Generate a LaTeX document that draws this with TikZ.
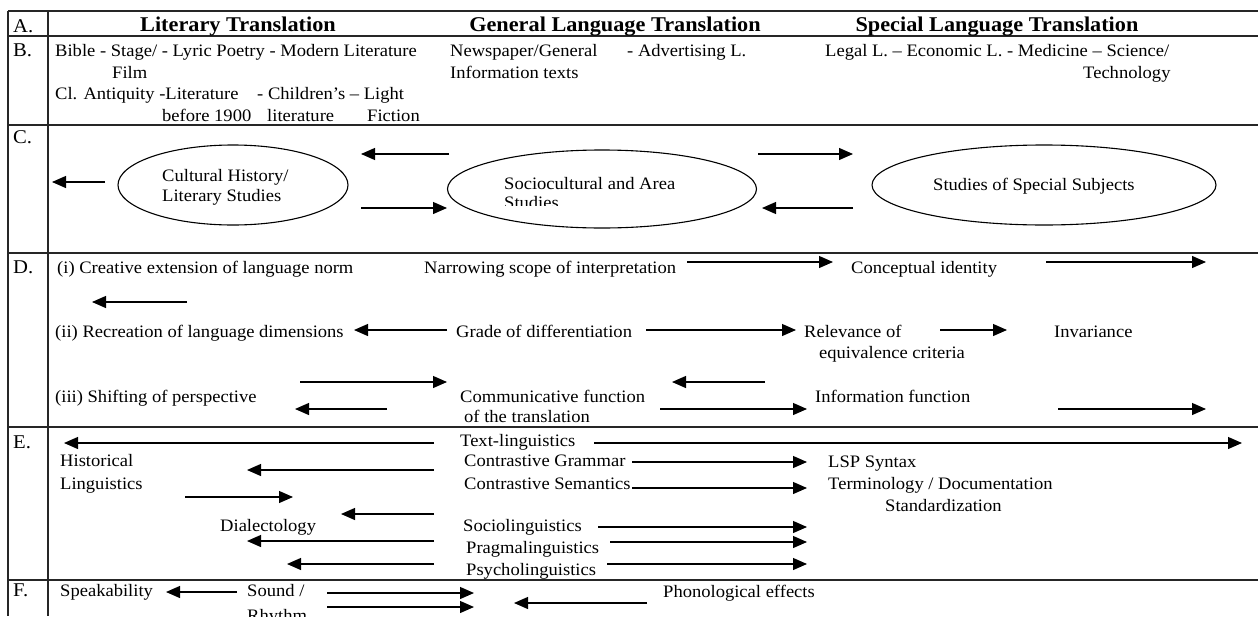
\documentclass[tikz,border=0pt]{standalone}
\usepackage{fontspec}
\setmainfont{Liberation Serif}[FakeStretch=1.06]
\usetikzlibrary{arrows.meta,shapes.geometric}
\newcommand\txtsize{\fontsize{17.5}{20}\selectfont}
\newcommand\hdsize{\fontsize{21}{24}\selectfont\bfseries}
\newcommand\lblsize{\fontsize{19.5}{22}\selectfont}
\tikzset{
  t/.style={anchor=base west,inner sep=0pt,font=\txtsize},
  hd/.style={anchor=base,inner sep=0pt,font=\hdsize},
  lbl/.style={anchor=base west,inner sep=0pt,font=\lblsize},
  arr/.style={-{Triangle[length=14pt,width=12pt]},line width=1.2pt},
  rule/.style={line width=1.5pt,draw=black!85},
  oval/.style={ellipse,draw,line width=1.1pt,inner sep=0pt},
}
\begin{document}
\begin{tikzpicture}[x=1pt,y=-1pt]
\clip (0,0) rectangle (1258,616);
\fill[white] (0,0) rectangle (1258,616);

% table rules
\draw[rule] (8,11) -- (1258,11);
\draw[rule] (8,36) -- (1258,36);
\draw[rule] (8,125) -- (1258,125);
\draw[rule] (8,253) -- (1258,253);
\draw[rule] (8,427) -- (1258,427);
\draw[rule] (8,580) -- (1258,580);
\draw[rule] (8,11) -- (8,616);
\draw[rule] (48,11) -- (48,616);

% row labels
\node[lbl] (lA) at (13,32) {A.};
\node[lbl] (lB) at (13,56) {B.};
\node[lbl] (lC) at (13,143) {C.};
\node[lbl] (lD) at (13,273) {D.};
\node[lbl] (lE) at (13,448) {E.};
\node[lbl] (lF) at (13,596) {F.};

% A: headings
\node[hd] (hLit) at (238,31) {Literary Translation};
\node[hd] (hGen) at (615,31) {General Language Translation};
\node[hd] (hSpe) at (997,31) {Special Language Translation};

% B: text types
\node[t] (b1) at (55,56) {Bible - Stage/ - Lyric Poetry - Modern Literature};
\node[t] (b2) at (112,78) {Film};
\node[t] (b3) at (55,99) {Cl. Antiquity -Literature};
\node[t] (b4) at (257,99) {- Children's -- Light};
\node[t] (b5) at (162,121) {before 1900};
\node[t] (b6) at (267,121) {literature};
\node[t] (b7) at (367,121) {Fiction};
\node[t] (b8) at (450,56) {Newspaper/General};
\node[t] (b9) at (627,56) {- Advertising L.};
\node[t] (b10) at (450,78) {Information texts};
\node[t] (b11) at (825,56) {Legal L. -- Economic L. - Medicine -- Science/};
\node[t] (b12) at (1083,78) {Technology};

% C: neighbouring disciplines
\node[oval,minimum width=230pt,minimum height=80pt] (e1) at (233,185) {};
\node[t] (e1a) at (162,181) {Cultural History/};
\node[t] (e1b) at (162,201) {Literary Studies};
\node[oval,minimum width=309pt,minimum height=78pt] (e2) at (602,189) {};
\node[t] (e2a) at (504,189) {Sociocultural and Area};
\begin{scope}
  \clip (440,150) rectangle (770,205);
  \node[t] (e2b) at (504,208) {Studies};
\end{scope}
\node[oval,minimum width=344pt,minimum height=80pt] (e3) at (1044,185) {};
\node[t] (e3a) at (933,190) {Studies of Special Subjects};

\coordinate (c1s) at (105,182); \coordinate (c1e) at (52,182);
\coordinate (c2s) at (449,154); \coordinate (c2e) at (361,154);
\coordinate (c3s) at (361,208); \coordinate (c3e) at (447,208);
\coordinate (c4s) at (758,154); \coordinate (c4e) at (853,154);
\coordinate (c5s) at (853,208); \coordinate (c5e) at (762,208);
\foreach \i in {1,...,5} \draw[arr] (c\i s) -- (c\i e);

% D: translation criteria
\node[t] (d1) at (57,273) {(i) Creative extension of language norm};
\node[t] (d2) at (424,273) {Narrowing scope of interpretation};
\node[t] (d3) at (851,273) {Conceptual identity};
\node[t] (d4) at (55,337) {(ii) Recreation of language dimensions};
\node[t] (d5) at (456,337) {Grade of differentiation};
\node[t] (d6) at (804,337) {Relevance of};
\node[t] (d7) at (819,358) {equivalence criteria};
\node[t] (d8) at (1054,337) {Invariance};
\node[t] (d9) at (55,402) {(iii) Shifting of perspective};
\node[t] (d10) at (460,402) {Communicative function};
\node[t] (d11) at (464,422) {of the translation};
\node[t] (d12) at (815,402) {Information function};

\coordinate (d1s) at (687,262); \coordinate (d1e) at (833,262);
\coordinate (d2s) at (1046,262); \coordinate (d2e) at (1206,262);
\coordinate (d3s) at (187,302); \coordinate (d3e) at (92,302);
\coordinate (d4s) at (447,330); \coordinate (d4e) at (354,330);
\coordinate (d5s) at (646,330); \coordinate (d5e) at (796,330);
\coordinate (d6s) at (940,330); \coordinate (d6e) at (1007,330);
\coordinate (d7s) at (300,382); \coordinate (d7e) at (447,382);
\coordinate (d8s) at (387,409); \coordinate (d8e) at (295,409);
\coordinate (d9s) at (765,382); \coordinate (d9e) at (672,382);
\coordinate (d10s) at (660,409); \coordinate (d10e) at (807,409);
\coordinate (d11s) at (1058,409); \coordinate (d11e) at (1206,409);
\foreach \i in {1,...,11} \draw[arr] (d\i s) -- (d\i e);

% E: linguistic disciplines
\node[t] (x1) at (460,446) {Text-linguistics};
\node[t] (x2) at (60,466) {Historical};
\node[t] (x3) at (60,489) {Linguistics};
\node[t] (x4) at (464,466) {Contrastive Grammar};
\node[t] (x5) at (464,489) {Contrastive Semantics};
\node[t] (x6) at (828,467) {LSP Syntax};
\node[t] (x7) at (828,489) {Terminology / Documentation};
\node[t] (x8) at (885,511) {Standardization};
\node[t] (x9) at (220,531) {Dialectology};
\node[t] (x10) at (463,531) {Sociolinguistics};
\node[t] (x11) at (466,553) {Pragmalinguistics};
\node[t] (x12) at (466,575) {Psycholinguistics};

\coordinate (x1s) at (434,443); \coordinate (x1e) at (64,443);
\coordinate (x2s) at (594,443); \coordinate (x2e) at (1242,443);
\coordinate (x3s) at (434,470); \coordinate (x3e) at (247,470);
\coordinate (x4s) at (632,462); \coordinate (x4e) at (807,462);
\coordinate (x5s) at (632,488); \coordinate (x5e) at (807,488);
\coordinate (x6s) at (185,497); \coordinate (x6e) at (293,497);
\coordinate (x7s) at (434,514); \coordinate (x7e) at (341,514);
\coordinate (x8s) at (598,527); \coordinate (x8e) at (807,527);
\coordinate (x9s) at (434,541); \coordinate (x9e) at (247,541);
\coordinate (x10s) at (610,542); \coordinate (x10e) at (807,542);
\coordinate (x11s) at (434,564); \coordinate (x11e) at (287,564);
\coordinate (x12s) at (607,564); \coordinate (x12e) at (807,564);
\foreach \i in {1,...,12} \draw[arr] (x\i s) -- (x\i e);

% F: phonic aspects
\node[t] (f1) at (60,596) {Speakability};
\node[t] (f2) at (247,596) {Sound /};
\node[t] (f3) at (247,621) {Rhythm};
\node[t] (f4) at (663,597) {Phonological effects};

\coordinate (f1s) at (237,592); \coordinate (f1e) at (166,592);
\coordinate (f2s) at (327,593); \coordinate (f2e) at (474,593);
\coordinate (f3s) at (327,607); \coordinate (f3e) at (474,607);
\coordinate (f4s) at (647,603); \coordinate (f4e) at (514,603);
\foreach \i in {1,...,4} \draw[arr] (f\i s) -- (f\i e);
\end{tikzpicture}
\end{document}
